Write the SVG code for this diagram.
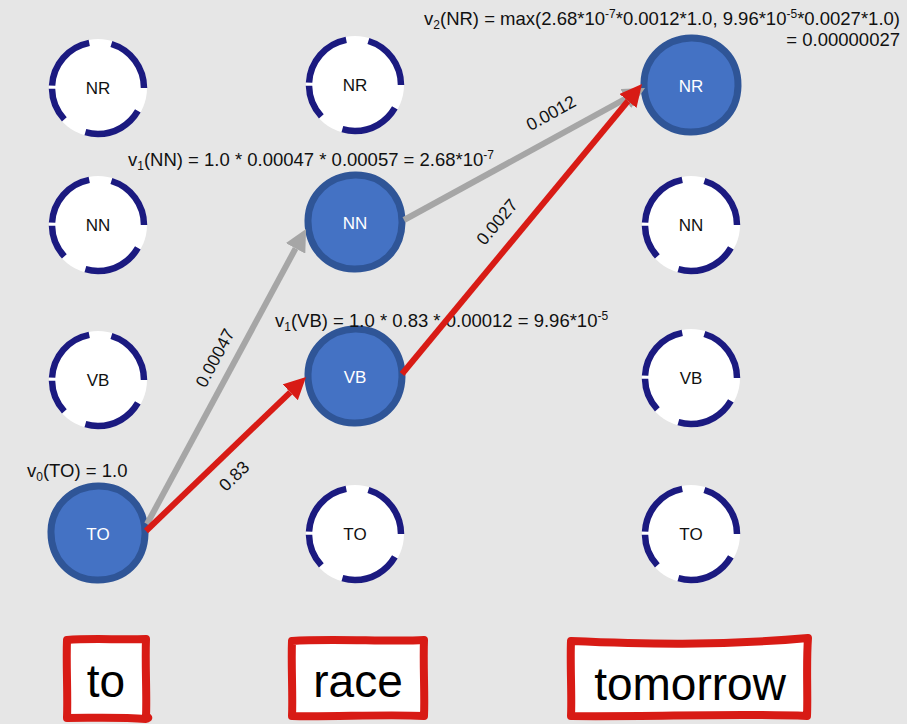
<svg xmlns="http://www.w3.org/2000/svg" width="907" height="724" viewBox="0 0 907 724">
  <style>
    text { font-family: "Liberation Sans", Arial, sans-serif; }
    .bg { fill: #e6e6e6; }
    .ring-fill { fill: #ffffff; }
    .ring { fill: none; stroke: #1b1a80; stroke-width: 6.5; stroke-dasharray: 76 31 42 4 76 28 73 30; stroke-dashoffset: -30; }
    .blob { fill: #4472c4; stroke: #2f5597; stroke-width: 7; }
    .lbl { font-size: 17px; text-anchor: middle; fill: #111111; }
    .lbl-w { font-size: 17px; text-anchor: middle; fill: #ffffff; }
    .eq { font-size: 18.5px; fill: #111111; }
    .w { font-size: 12px; }
    .edge-gray { fill: none; stroke: #a6a6a6; stroke-width: 6; marker-end: url(#head-gray); }
    .edge-red { fill: none; stroke: #d81b15; stroke-width: 6; marker-end: url(#head-red); }
    .elbl { font-size: 17.5px; text-anchor: middle; fill: #111111; }
    .word-box { fill: #ffffff; stroke: #d81b15; stroke-width: 8; stroke-linejoin: round; }
    .word { font-size: 46px; text-anchor: middle; fill: #000000; }
  </style>
  <defs>
    <marker id="head-gray" viewBox="0 0 22 22" markerWidth="22" markerHeight="22" refX="0" refY="11" orient="auto" markerUnits="userSpaceOnUse">
      <path d="M0,0 L22,11 L0,22 Z" fill="#a6a6a6"/>
    </marker>
    <marker id="head-red" viewBox="0 0 22 22" markerWidth="22" markerHeight="22" refX="0" refY="11" orient="auto" markerUnits="userSpaceOnUse">
      <path d="M0,0 L22,11 L0,22 Z" fill="#d81b15"/>
    </marker>
    <!-- slightly uneven hand-drawn disc used for the active states -->
    <path id="blob" d="M0,-47 C27,-47.5 47.5,-27 47,1 C46.5,28 27,47.5 -1,47 C-28,46.5 -47.5,26 -47,-2 C-46.5,-27 -26,-46.5 0,-47 Z"/>
    <g id="empty">
      <circle r="49" class="ring-fill"/>
      <circle r="46" class="ring" pathLength="360"/>
    </g>
  </defs>

  <rect class="bg" x="0" y="0" width="907" height="724"/>

  <!-- column 1: "to" -->
  <g id="n-to-NR">
    <use href="#empty" x="98" y="88"/>
    <text class="lbl" x="98" y="94">NR</text>
  </g>
  <g id="n-to-NN">
    <use href="#empty" x="98" y="225"/>
    <text class="lbl" x="98" y="231">NN</text>
  </g>
  <g id="n-to-VB">
    <use href="#empty" x="98" y="380"/>
    <text class="lbl" x="98" y="386">VB</text>
  </g>
  <g id="n-to-TO">
    <use href="#blob" class="blob" x="98" y="533"/>
    <text class="lbl-w" x="98" y="540">TO</text>
  </g>

  <!-- column 2: "race" -->
  <g id="n-race-NR">
    <use href="#empty" x="355" y="85"/>
    <text class="lbl" x="355" y="91">NR</text>
  </g>
  <g id="n-race-NN">
    <use href="#blob" class="blob" x="355" y="222"/>
    <text class="lbl-w" x="355" y="229">NN</text>
  </g>
  <g id="n-race-VB">
    <use href="#blob" class="blob" x="355" y="376"/>
    <text class="lbl-w" x="355" y="383">VB</text>
  </g>
  <g id="n-race-TO">
    <use href="#empty" x="355" y="534"/>
    <text class="lbl" x="355" y="540">TO</text>
  </g>

  <!-- column 3: "tomorrow" -->
  <g id="n-tomorrow-NR">
    <use href="#blob" class="blob" x="691" y="85"/>
    <text class="lbl-w" x="691" y="92">NR</text>
  </g>
  <g id="n-tomorrow-NN">
    <use href="#empty" x="691" y="225"/>
    <text class="lbl" x="691" y="231">NN</text>
  </g>
  <g id="n-tomorrow-VB">
    <use href="#empty" x="691" y="378"/>
    <text class="lbl" x="691" y="384">VB</text>
  </g>
  <g id="n-tomorrow-TO">
    <use href="#empty" x="691" y="534"/>
    <text class="lbl" x="691" y="540">TO</text>
  </g>

  <!-- Viterbi values -->
  <g id="values">
    <text class="eq" x="27" y="477">v<tspan class="w" dy="4">0</tspan><tspan dy="-4">(TO) = 1.0</tspan></text>
    <text class="eq" x="128" y="166">v<tspan class="w" dy="4">1</tspan><tspan dy="-4">(NN) = 1.0 * 0.00047 * 0.00057 = 2.68*10</tspan><tspan class="w" dy="-7">-7</tspan></text>
    <text class="eq" x="275" y="327">v<tspan class="w" dy="4">1</tspan><tspan dy="-4">(VB) = 1.0 * 0.83 * 0.00012 = 9.96*10</tspan><tspan class="w" dy="-7">-5</tspan></text>
    <text class="eq" x="900" y="25" text-anchor="end">v<tspan class="w" dy="4">2</tspan><tspan dy="-4">(NR) = max(2.68*10</tspan><tspan class="w" dy="-7">-7</tspan><tspan dy="7">*0.0012*1.0, 9.96*10</tspan><tspan class="w" dy="-7">-5</tspan><tspan dy="7">*0.0027*1.0)</tspan></text>
    <text class="eq" x="900" y="46" text-anchor="end">= 0.00000027</text>
  </g>

  <!-- transitions -->
  <g id="connectors">
    <line class="edge-gray" x1="147" y1="524" x2="295.6" y2="248.4"/>
    <line class="edge-red" x1="146" y1="531" x2="290.2" y2="392.3"/>
    <line class="edge-gray" x1="404" y1="220" x2="625.7" y2="98.6"/>
    <line class="edge-red" x1="402" y1="374" x2="628" y2="101"/>
    <text class="elbl" transform="translate(215,358) rotate(-62)" dy="6">0.00047</text>
    <text class="elbl" transform="translate(234,476) rotate(-44)" dy="6">0.83</text>
    <text class="elbl" transform="translate(551,113) rotate(-29)" dy="6">0.0012</text>
    <text class="elbl" transform="translate(497,222) rotate(-50)" dy="6">0.0027</text>
  </g>

  <!-- observed words -->
  <g id="w-to">
    <path class="word-box" d="M67,640 C90,638 120,640 146,639 C145,665 147,695 146,716 C150,718 148,718 146,719 C120,717 95,718 67,718 C68,695 66,665 67,640 Z"/>
    <text class="word" x="106" y="697">to</text>
  </g>
  <g id="w-race">
    <path class="word-box" d="M292,641 C330,638 390,642 424,640 C423,665 425,695 424,716 C390,714 330,717 292,716 C293,695 291,665 292,641 Z"/>
    <text class="word" x="358" y="697">race</text>
  </g>
  <g id="w-tomorrow">
    <path class="word-box" d="M571,641 C640,644 720,646 808,638 C806,665 808,695 807,716 C740,713 650,717 571,716 C572,695 570,665 571,641 Z"/>
    <text class="word" x="690" y="700">tomorrow</text>
  </g>
</svg>
